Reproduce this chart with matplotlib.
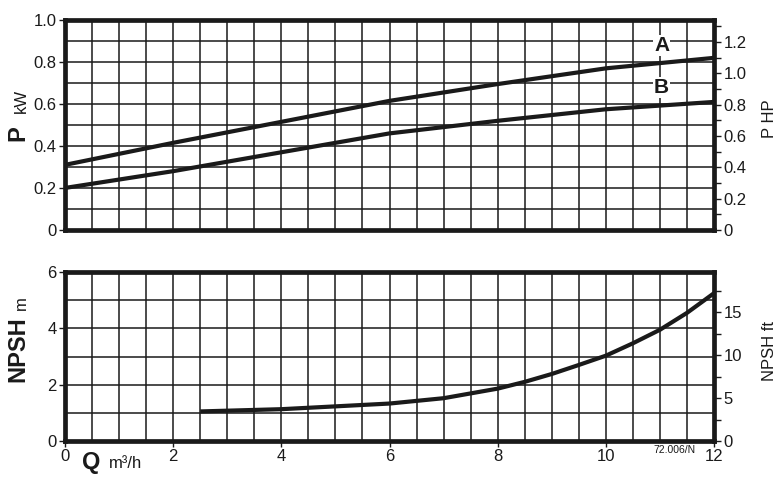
import matplotlib
matplotlib.use("Agg")
import matplotlib.pyplot as plt
from matplotlib.ticker import MultipleLocator, FixedLocator

plt.rcParams['font.family'] = ['Liberation Sans', 'DejaVu Sans']
plt.rcParams['text.color'] = '#1a1a1a'

# flow rate (m3/h) and power curves (kW)
q_p = [0, 2, 4, 6, 8, 10, 12]
p_a = [0.31, 0.415, 0.515, 0.615, 0.695, 0.77, 0.82]
p_b = [0.20, 0.28, 0.37, 0.46, 0.52, 0.575, 0.61]

# NPSH curve (m)
q_npsh = [2.5, 4, 5, 6, 7, 8, 8.5, 9, 9.5, 10, 10.5, 11, 11.5, 12]
npsh = [1.05, 1.13, 1.23, 1.33, 1.52, 1.86, 2.1, 2.38, 2.7, 3.03, 3.47, 3.95, 4.55, 5.25]

kw_ticks = [0, 0.2, 0.4, 0.6, 0.8, 1.0]
kw_labels = ['0', '0.2', '0.4', '0.6', '0.8', '1.0']
hp_ticks = [0, 0.2, 0.4, 0.6, 0.8, 1.0, 1.2]
hp_labels = ['0', '0.2', '0.4', '0.6', '0.8', '1.0', '1.2']
m_ticks = [0, 2, 4, 6]
ft_ticks = [0, 5, 10, 15]
q_ticks = [0, 2, 4, 6, 8, 10, 12]

KW2HP = 1.341
M2FT = 3.281
k = '#1a1a1a'

fig = plt.figure(figsize=(7.82, 4.78), dpi=100)
ax1 = fig.add_axes([0.0831, 0.519, 0.830, 0.439])
ax2 = fig.add_axes([0.0831, 0.0774, 0.830, 0.3535])


def style(ax, ymin):
    ax.set_xlim(0, 12)
    ax.xaxis.set_major_locator(FixedLocator(q_ticks))
    ax.xaxis.set_minor_locator(MultipleLocator(0.5))
    ax.yaxis.set_minor_locator(MultipleLocator(ymin))
    ax.grid(True, which='both', color=k, lw=1.1)
    ax.set_axisbelow(True)
    for s in ax.spines.values():
        s.set_linewidth(3.4)
        s.set_color(k)
    ax.tick_params(which='minor', length=0)
    ax.tick_params(which='major', length=4, width=1, color=k, labelsize=12,
                   pad=2, labelcolor=k)


# --- power panel
ax1.set_ylim(0, 1.0)
ax1.set_yticks(kw_ticks)
ax1.set_yticklabels(kw_labels)
style(ax1, 0.1)
ax1.tick_params(axis='x', which='major', length=0, labelbottom=False)
ax1.plot(q_p, p_a, color=k, lw=3, solid_capstyle='butt', zorder=3)
ax1.plot(q_p, p_b, color=k, lw=3, solid_capstyle='butt', zorder=3)
ax1.text(11.03, 0.879, 'A', ha='center', va='center', fontsize=15, weight='bold',
         bbox=dict(facecolor='white', edgecolor='none', pad=0.5), zorder=4)
ax1.text(11.03, 0.679, 'B', ha='center', va='center', fontsize=15, weight='bold',
         bbox=dict(facecolor='white', edgecolor='none', pad=0.5), zorder=4)

ax1r = ax1.twinx()
ax1r.set_ylim(0, 1.0 * KW2HP)
ax1r.set_yticks(hp_ticks)
ax1r.set_yticklabels(hp_labels)
ax1r.yaxis.set_minor_locator(MultipleLocator(0.1))
for s in ax1r.spines.values():
    s.set_visible(False)
ax1r.tick_params(which='both', length=5, width=1, color=k, labelsize=12, pad=2,
                 labelcolor=k)

# --- NPSH panel
ax2.set_ylim(0, 6)
ax2.set_yticks(m_ticks)
style(ax2, 1)
ax2.plot(q_npsh, npsh, color=k, lw=3, solid_capstyle='butt', zorder=3)

ax2r = ax2.twinx()
ax2r.set_ylim(0, 6 * M2FT)
ax2r.set_yticks(ft_ticks)
ax2r.yaxis.set_minor_locator(MultipleLocator(2.5))
for s in ax2r.spines.values():
    s.set_visible(False)
ax2r.tick_params(which='both', length=5, width=1, color=k, labelsize=12, pad=2,
                 labelcolor=k)

# axis titles
W, H = 782, 478
fig.text(18 / W, 1 - 133 / H, 'P', rotation=90, ha='center', va='center',
         fontsize=17, weight='bold')
fig.text(21 / W, 1 - 101 / H, 'kW', rotation=90, ha='center', va='center',
         fontsize=12)
fig.text(18 / W, 1 - 349 / H, 'NPSH', rotation=90, ha='center', va='center',
         fontsize=17, weight='bold')
fig.text(21 / W, 1 - 303 / H, 'm', rotation=90, ha='center', va='center',
         fontsize=12)
fig.text(91 / W, 1 - 462 / H, 'Q', ha='center', va='center',
         fontsize=17, weight='bold')
fig.text(126 / W, 1 - 463 / H, 'm³/h', ha='center', va='center',
         fontsize=12)
fig.text(770 / W, 1 - 119 / H, 'P HP', rotation=90, ha='center', va='center',
         fontsize=12)
fig.text(770 / W, 1 - 351 / H, 'NPSH ft', rotation=90, ha='center', va='center',
         fontsize=12)
fig.text(674 / W, 1 - 450 / H, '72.006/N', ha='center', va='center',
         fontsize=7.5)

fig.savefig('out.png', dpi=100)
